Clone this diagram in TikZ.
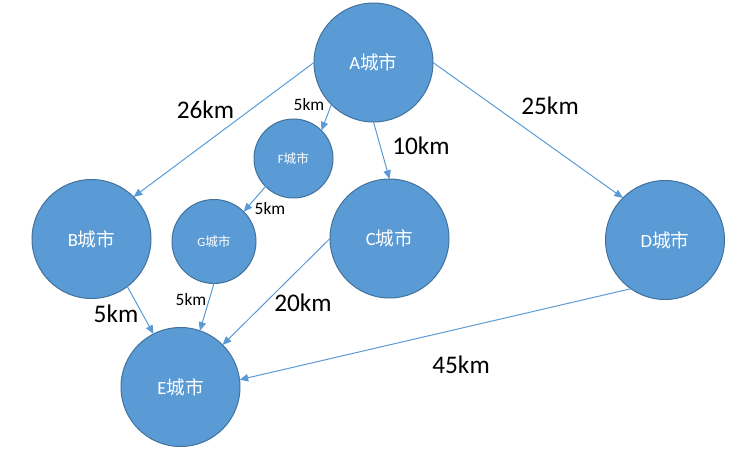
\documentclass[tikz,border=0pt]{standalone}
\usepackage{fontspec}
\setmainfont{Carlito}
\newfontfamily\cjk{Noto Sans CJK SC}
\usetikzlibrary{arrows.meta}
\definecolor{cfill}{HTML}{5B9BD5}
\definecolor{cline}{HTML}{41719C}
\definecolor{edgec}{HTML}{5B9BD5}
\begin{document}
\begin{tikzpicture}[x=0.75pt,y=-0.75pt,
  city/.style={circle,draw=cline,fill=cfill,line width=0.75pt,inner sep=0pt,outer sep=0pt,
    minimum size=89.25pt,text=white,font=\fontsize{14}{16}\selectfont},
  smallcity/.style={city,font=\fontsize{9.5}{11}\selectfont},
  conn/.style={draw=edgec,line width=0.75pt,-{Triangle[length=6.5pt,width=5.5pt]}},
  biglab/.style={font=\fontsize{19}{22}\selectfont,text=black,inner sep=0pt},
  smalllab/.style={font=\fontsize{13}{15}\selectfont,text=black,inner sep=0pt}]
\useasboundingbox (0,0) rectangle (744,456);
\node[city] (A) at (373.5,62.5) {A{\cjk 城市}};
\node[city] (B) at (91.5,239) {B{\cjk 城市}};
\node[city] (C) at (389.5,238.5) {C{\cjk 城市}};
\node[city] (D) at (665,240) {D{\cjk 城市}};
\node[city] (E) at (180.5,387) {E{\cjk 城市}};
\node[smallcity,minimum size=59.25pt] (F) at (293.5,158.5) {F{\cjk 城市}};
\node[smallcity,minimum size=63pt] (G) at (214,241.5) {G{\cjk 城市}};
\draw[conn] (A.180) -- (B.45);
\draw[conn] (A.225) -- (F.45);
\draw[conn] (A.270) -- (C.90);
\draw[conn] (A.0) -- (D.135);
\draw[conn] (F.225) -- (G.45);
\draw[conn] (G.270) -- (E.71);
\draw[conn] (B.-53) -- (E.117);
\draw[conn] (C.180) -- (E.45);
\draw[conn] (D.235) -- (E.7);
\node[biglab] (l26) at (205.5,110) {26km};
\node[smalllab] (l5a) at (309,105) {5km};
\node[biglab] (l10) at (421,146) {10km};
\node[biglab] (l25) at (550,106) {25km};
\node[smalllab] (l5b) at (270,209) {5km};
\node[smalllab] (l5c) at (191,300) {5km};
\node[biglab] (l5d) at (116,314) {5km};
\node[biglab] (l20) at (303,303) {20km};
\node[biglab] (l45) at (461,365) {45km};
\end{tikzpicture}
\end{document}
